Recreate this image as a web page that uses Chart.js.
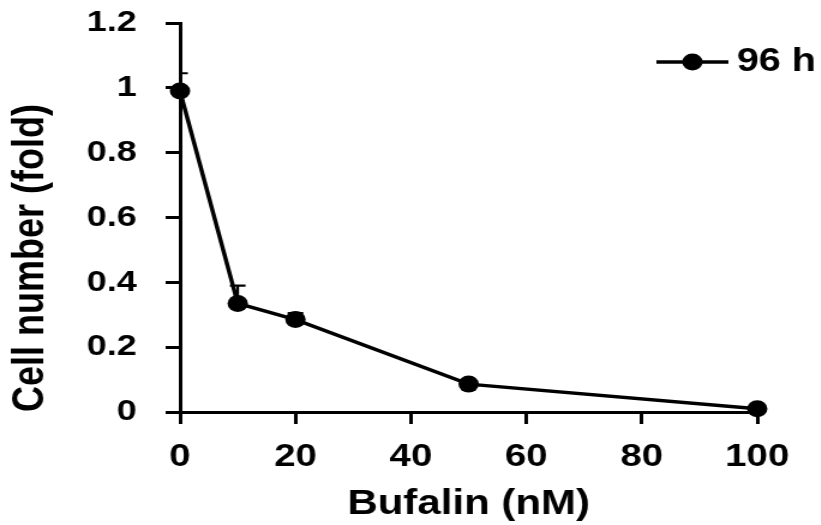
<!DOCTYPE html>
<html><head><meta charset="utf-8">
<script src="https://cdn.jsdelivr.net/npm/chart.js@4.4.1/dist/chart.umd.min.js"></script>
<style>
html,body{margin:0;padding:0;background:#fff;overflow:hidden;}
#wrap{position:absolute;left:0;top:0;width:684px;height:525px;transform:scaleX(1.2);transform-origin:0 0;}
</style></head><body>
<div id="wrap"><canvas id="c"></canvas></div>
<script>
// ---- data ----
const concentrations = [0, 10, 20, 50, 100];          // Bufalin (nM)
const cellFold96h   = [0.99, 0.335, 0.285, 0.086, 0.01];
const errorUp96h    = [0.055, 0.055, 0.02, 0.005, 0.005];
const seriesLabel   = '96 h';
const xTickValues   = [0, 20, 40, 60, 80, 100];
const yTickValues   = [0, 0.2, 0.4, 0.6, 0.8, 1, 1.2];
const xTitle = 'Bufalin (nM)';
const yTitle = 'Cell number (fold)';

const FAMILY = "'Liberation Sans', Arial, Helvetica, sans-serif";
Chart.defaults.font.family = FAMILY;
Chart.defaults.color = '#000';

const errorBars = {
  id: 'errorBars',
  beforeDatasetsDraw(chart) {
    const {ctx, chartArea: a, scales: {x, y}} = chart;
    ctx.save();
    ctx.beginPath();
    ctx.rect(a.left, a.top - 20, a.right - a.left + 20, a.bottom - a.top + 20);
    ctx.clip();
    ctx.strokeStyle = '#000';
    ctx.lineWidth = 2.2;
    concentrations.forEach((c, i) => {
      const px = x.getPixelForValue(c);
      const py = y.getPixelForValue(cellFold96h[i]);
      const pt = y.getPixelForValue(cellFold96h[i] + errorUp96h[i]);
      ctx.beginPath();
      ctx.moveTo(px, py); ctx.lineTo(px, pt);
      ctx.moveTo(px - 6.5, pt); ctx.lineTo(px + 6.5, pt);
      ctx.stroke();
    });
    ctx.restore();
  }
};

const inlineLegend = {
  id: 'inlineLegend',
  afterDraw(chart) {
    const ds = chart.data.datasets[0];
    const ctx = chart.ctx;
    const y0 = 62, x0 = 547, x1 = 607, xm = 577;
    ctx.save();
    ctx.strokeStyle = ds.borderColor;
    ctx.lineWidth = ds.borderWidth;
    ctx.beginPath(); ctx.moveTo(x0, y0); ctx.lineTo(x1, y0); ctx.stroke();
    ctx.beginPath(); ctx.arc(xm, y0, ds.pointRadius, 0, Math.PI * 2);
    ctx.fillStyle = ds.pointBackgroundColor; ctx.fill();
    ctx.font = 'bold 33px ' + FAMILY;
    ctx.textBaseline = 'middle'; ctx.textAlign = 'left';
    ctx.fillStyle = '#000';
    ctx.fillText(ds.label, 614, y0);
    ctx.restore();
  }
};

const axisCommon = {
  type: 'linear',
  border: {display: true, color: '#000', width: 3},
  grid: {display: true, drawOnChartArea: false, drawTicks: true, tickLength: 12, tickWidth: 3, tickColor: '#000'},
};

new Chart(document.getElementById('c'), {
  type: 'line',
  data: {
    datasets: [{
      label: seriesLabel,
      data: concentrations.map((c, i) => ({x: c, y: cellFold96h[i]})),
      borderColor: '#000',
      backgroundColor: '#000',
      borderWidth: 3.5,
      tension: 0,
      pointRadius: 8.5,
      pointBackgroundColor: '#000',
      pointBorderWidth: 0,
      clip: false
    }]
  },
  options: {
    responsive: true,
    maintainAspectRatio: false,
    animation: false,
    layout: {padding: {left: 0, right: 53, top: 23, bottom: 0}},
    plugins: {legend: {display: false}, tooltip: {enabled: false}},
    scales: {
      x: Object.assign({}, axisCommon, {
        min: 0, max: 100,
        afterBuildTicks: s => { s.ticks = xTickValues.map(v => ({value: v})); },
        afterFit: s => { s.height = 113; },
        ticks: {color: '#000', padding: 14, maxRotation: 0, autoSkip: false,
                font: {size: 32, weight: 'bold'}},
        title: {display: true, text: xTitle, color: '#000',
                font: {size: 35, weight: 'bold'}, padding: {top: 0, bottom: 0}}
      }),
      y: Object.assign({}, axisCommon, {
        min: 0, max: 1.2,
        afterBuildTicks: s => { s.ticks = yTickValues.map(v => ({value: v})); },
        afterFit: s => { s.width = 150; s.paddingTop = 10; s.paddingBottom = 10; },
        ticks: {color: '#000', padding: 24, font: {size: 30, weight: 'bold'},
                callback: v => String(Math.round(v * 10) / 10)},
        title: {display: true, text: yTitle, color: '#000', align: 'start',
                font: {size: 36, weight: 'bold'}, padding: {top: 4, bottom: 0}}
      })
    }
  },
  plugins: [errorBars, inlineLegend]
});
</script>
</body></html>
